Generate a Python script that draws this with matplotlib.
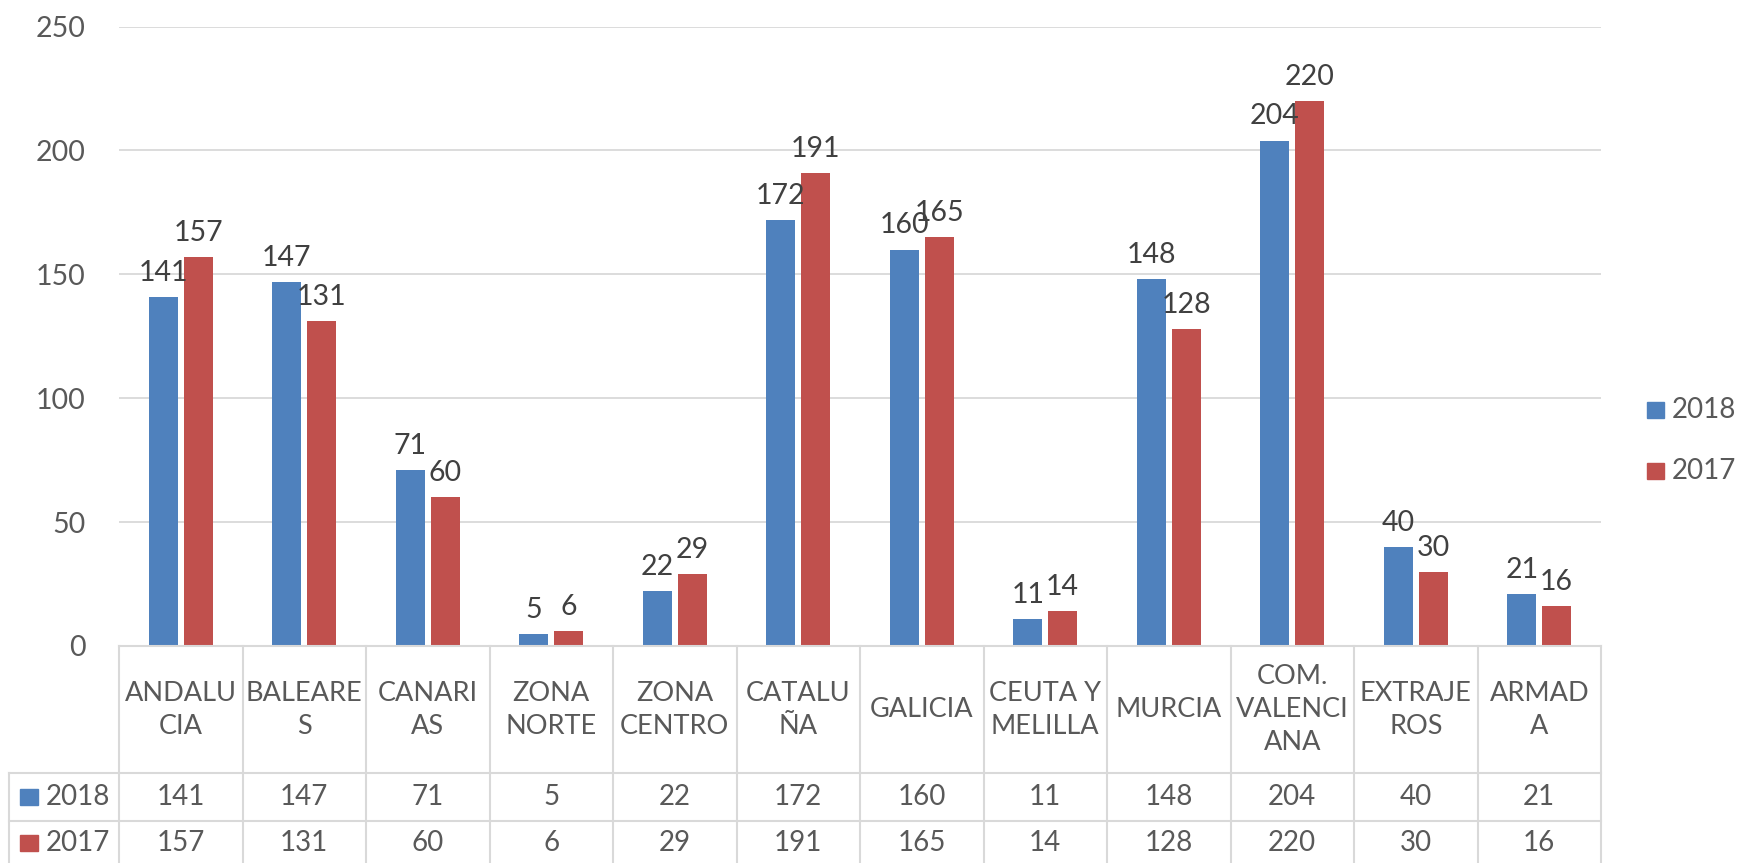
import matplotlib
matplotlib.use("Agg")
import matplotlib.pyplot as plt
from matplotlib.transforms import blended_transform_factory
from matplotlib.patches import Rectangle
from matplotlib.lines import Line2D
import numpy as np

# data
categories = ["ANDALU\nCIA", "BALEARE\nS", "CANARI\nAS", "ZONA\nNORTE", "ZONA\nCENTRO",
              "CATALU\nÑA", "GALICIA", "CEUTA Y\nMELILLA", "MURCIA",
              "COM.\nVALENCI\nANA", "EXTRAJE\nROS", "ARMAD\nA"]
years = ["2018", "2017"]
v2018 = [141, 147, 71, 5, 22, 172, 160, 11, 148, 204, 40, 21]
v2017 = [157, 131, 60, 6, 29, 191, 165, 14, 128, 220, 30, 16]
y_ticks = [0, 50, 100, 150, 200, 250]

W, H = 1740, 863
BLUE, RED = "#4f81bd", "#c0504d"
GRID = "#d9d9d9"
TXT = "#595959"
LBL = "#404040"
plt.rcParams["font.family"] = ["Lato", "DejaVu Sans"]

fig = plt.figure(figsize=(W / 100, H / 100), dpi=100)
fx = lambda px: px / W
fy = lambda py: 1 - py / H

ax_l, ax_r, ax_t, ax_b = 119, 1601, 26.6, 646
ax = fig.add_axes([fx(ax_l), fy(ax_b), fx(ax_r - ax_l), fy(ax_t) - fy(ax_b)])

x = np.arange(len(categories))
off, bw = 0.141, 0.235
b1 = ax.bar(x - off, v2018, bw, color=BLUE, zorder=3)
b2 = ax.bar(x + off, v2017, bw, color=RED, zorder=3)
for bars, vals in [(b1, v2018), (b2, v2017)]:
    for rect, v in zip(bars, vals):
        ax.annotate(str(v), (rect.get_x() + rect.get_width() / 2, v),
                    xytext=(0, 8), textcoords="offset points",
                    ha="center", va="bottom", fontsize=20.5, color=LBL, zorder=4)

ax.set_xlim(-0.5, len(categories) - 0.5)
ax.set_ylim(0, 250)
ax.set_yticks(y_ticks)
ax.set_xticks([])
ax.tick_params(axis="y", length=0, labelsize=20.5, labelcolor=TXT, pad=24)
ax.grid(axis="y", color=GRID, lw=1.3, zorder=0)
for s in ax.spines.values():
    s.set_visible(False)

# data table under the axis
bt = blended_transform_factory(ax.transData, fig.transFigure)
row_top, row1, row2, row_bot = 646, 773, 821, 870
n = len(categories)
for i in range(n + 1):
    fig.add_artist(Line2D([i - 0.5, i - 0.5], [fy(row_top), fy(row_bot)],
                          transform=bt, color=GRID, lw=1.5, clip_on=False))
fig.add_artist(Line2D([-0.5, n - 0.5], [fy(row_top), fy(row_top)], transform=bt,
                      color=GRID, lw=1.5))
for yy in (row1, row2, row_bot):
    fig.add_artist(Line2D([fx(9), fx(ax_r)], [fy(yy), fy(yy)],
                          transform=fig.transFigure, color=GRID, lw=1.5))
fig.add_artist(Line2D([fx(9), fx(9)], [fy(row1), fy(row_bot)],
                      transform=fig.transFigure, color=GRID, lw=1.5))

for i, c in enumerate(categories):
    fig.text(i, fy((row_top + row1) / 2), c, transform=bt, ha="center", va="center",
             fontsize=19.5, color=TXT, linespacing=1.4)
    fig.text(i, fy(797), str(v2018[i]), transform=bt, ha="center", va="center",
             fontsize=20, color=TXT)
    fig.text(i, fy(843), str(v2017[i]), transform=bt, ha="center", va="center",
             fontsize=20, color=TXT)

for yr, col, yc in [(years[0], BLUE, 797), (years[1], RED, 843)]:
    fig.add_artist(Rectangle((fx(20), fy(yc + 8)), fx(18), fy(yc - 8) - fy(yc + 8),
                             transform=fig.transFigure, color=col))
    fig.text(fx(46), fy(yc), yr, ha="left", va="center", fontsize=20, color=TXT)

# legend on the right
for yr, col, yc in [(years[0], BLUE, 410), (years[1], RED, 471)]:
    fig.add_artist(Rectangle((fx(1647), fy(yc + 8)), fx(17), fy(yc - 8) - fy(yc + 8),
                             transform=fig.transFigure, color=col))
    fig.text(fx(1672), fy(yc), yr, ha="left", va="center", fontsize=20, color=TXT)

fig.savefig("out.png", dpi=100)
